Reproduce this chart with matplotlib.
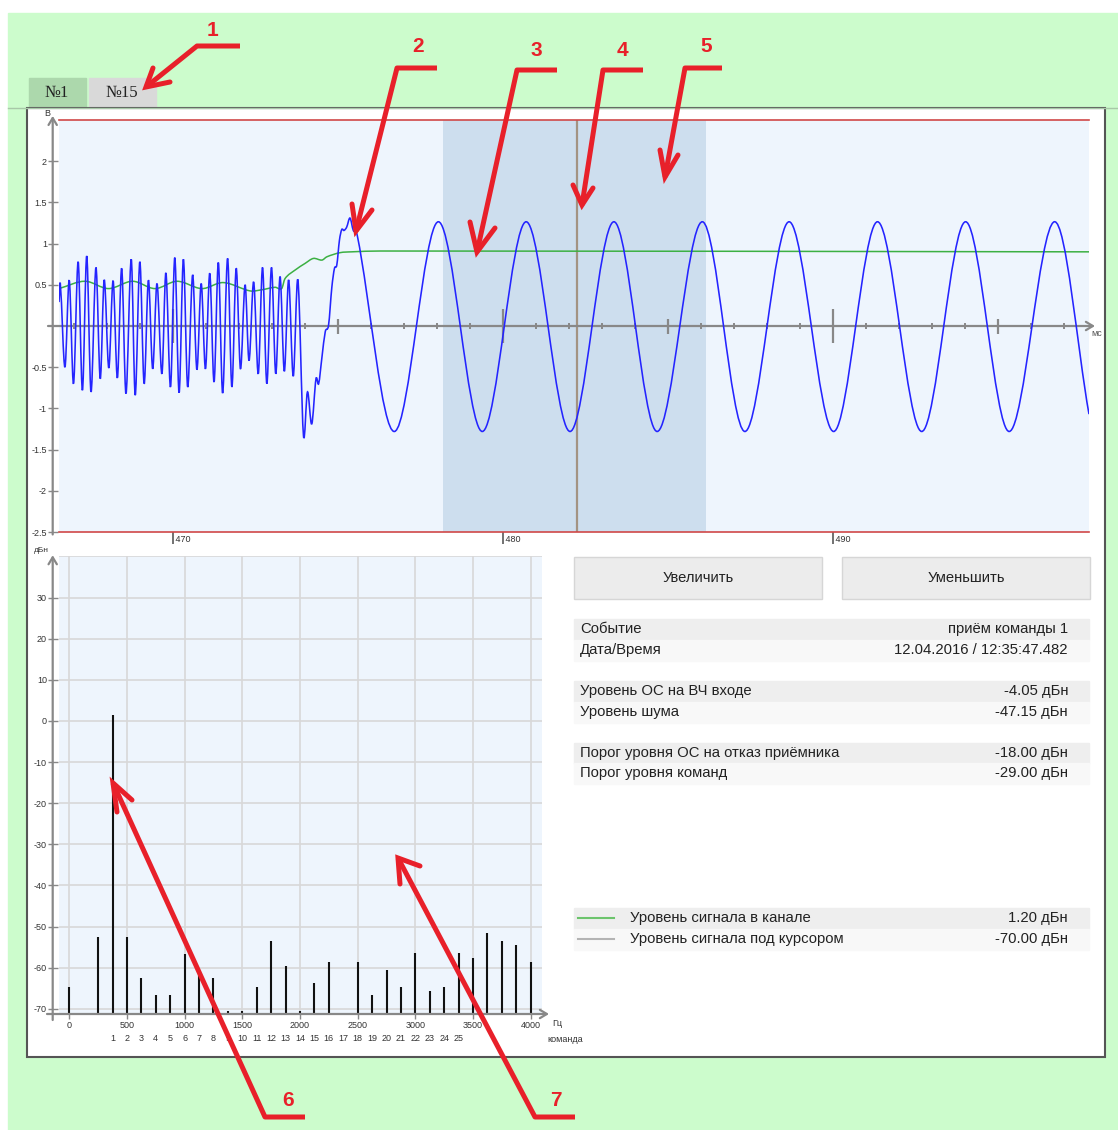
import numpy as np
import matplotlib
matplotlib.use('Agg')
import matplotlib.pyplot as plt
from matplotlib.path import Path
from matplotlib.patches import PathPatch, Rectangle

plt.rcParams['font.family'] = ['Liberation Sans', 'DejaVu Sans']

# ---- oscillogram: turning points (ms, V) ----
sig_t = [466.55, 466.59, 466.73, 466.86, 466.99, 467.13, 467.26, 467.39, 467.52, 467.67,
         467.80, 467.92, 468.06, 468.19, 468.32, 468.45, 468.58, 468.74, 468.86, 469.00,
         469.13, 469.26, 469.39, 469.52, 469.67, 469.79, 469.93, 470.06, 470.19, 470.32,
         470.45, 470.60, 470.73, 470.86, 470.99, 471.12, 471.25, 471.38, 471.51, 471.66,
         471.79, 471.92, 472.05, 472.19, 472.31, 472.45, 472.59, 472.72, 472.85, 472.99,
         473.12, 473.25, 473.38, 473.51, 473.65, 473.79,
         473.96, 474.08, 474.21, 474.34, 474.42, 474.52, 474.62, 474.72, 474.82, 474.90,
         474.97, 475.05, 475.12, 475.19, 475.27, 475.37, 475.47, 475.59,
         476.72, 478.05, 479.38, 480.71, 482.04, 483.37, 484.68, 486.05, 487.34, 488.68,
         490.03, 491.36, 492.70, 494.03, 495.35, 496.72, 497.77]
sig_v = [0.29, 0.515, -0.50, 0.555, -0.70, 0.78, -0.78, 0.85, -0.80, 0.71,
         -0.64, 0.56, -0.51, 0.55, -0.63, 0.70, -0.82, 0.81, -0.84, 0.78,
         -0.70, 0.555, -0.52, 0.515, -0.58, 0.645, -0.74, 0.83, -0.81, 0.81,
         -0.74, 0.62, -0.53, 0.515, -0.52, 0.64, -0.68, 0.77, -0.815, 0.82,
         -0.74, 0.70, -0.52, 0.50, -0.42, 0.535, -0.58, 0.71, -0.70, 0.71,
         -0.58, 0.60, -0.55, 0.56, -0.61, 0.56,
         -1.33, -0.80, -1.19, -0.64, -0.70, -0.38, -0.07, 0.01, 0.47, 0.70,
         0.74, 1.04, 1.17, 1.16, 1.20, 1.31, 1.16, 1.10,
         -1.28, 1.265, -1.28, 1.265, -1.28, 1.265, -1.28, 1.265, -1.28, 1.265,
         -1.28, 1.265, -1.28, 1.265, -1.28, 1.265, -1.07]
lvl_t = [466.55, 467.34, 468.05, 468.78, 469.46, 470.13, 470.88, 471.53, 472.34, 472.70,
         473.10, 473.30, 473.40, 473.71, 474.01, 474.26, 474.52, 474.67, 475.07, 475.42,
         476.28, 497.77]
lvl_v = [0.454, 0.543, 0.454, 0.543, 0.454, 0.543, 0.454, 0.527, 0.426, 0.44,
         0.47, 0.455, 0.575, 0.68, 0.76, 0.82, 0.80, 0.84, 0.89, 0.90,
         0.91, 0.90]
sel_start, sel_end = 478.18, 486.16
cursor_t = 482.26
osc_yticks = [2, 1.5, 1, 0.5, -0.5, -1, -1.5, -2, -2.5]
osc_xlabels = [470, 480, 490]

# ---- spectrum (Hz, dBn) ----
spec_f = [0, 250, 375, 500, 625, 750, 875, 1000, 1125, 1250, 1375, 1500, 1625, 1750, 1875,
          2000, 2125, 2250, 2500, 2625, 2750, 2875, 3000, 3125, 3250, 3375, 3500, 3625,
          3750, 3875, 4000]
spec_db = [-64.6, -52.6, 1.5, -52.6, -62.6, -66.6, -66.6, -56.6, -61.6, -62.6, -70.5, -70.5,
           -64.6, -53.6, -59.6, -70.5, -63.6, -58.5, -58.5, -66.6, -60.6, -64.6, -56.5,
           -65.6, -64.6, -56.5, -57.6, -51.5, -53.5, -54.5, -58.5]
spec_xticks = [0, 500, 1000, 1500, 2000, 2500, 3000, 3500, 4000]
spec_yticks = [30, 20, 10, 0, -10, -20, -30, -40, -50, -60, -70]
cmd_f = [375, 500, 625, 750, 875, 1000, 1125, 1250, 1375, 1500, 1625, 1750, 1875, 2000,
         2125, 2250, 2375, 2500, 2625, 2750, 2875, 3000, 3125, 3250, 3375]
cmd_labels = [str(i) for i in range(1, 26)]

# ---- info panel ----
info_labels = ['Событие', 'Дата/Время', 'Уровень ОС на ВЧ входе', 'Уровень шума',
               'Порог уровня ОС на отказ приёмника', 'Порог уровня команд']
info_values = ['приём команды 1', '12.04.2016 / 12:35:47.482', '-4.05 дБн', '-47.15 дБн',
               '-18.00 дБн', '-29.00 дБн']
legend_labels = ['Уровень сигнала в канале', 'Уровень сигнала под курсором']
legend_values = ['1.20 дБн', '-70.00 дБн']
legend_colors = ['#6cc46c', '#b4b4b4']

W, H = 1118, 1130
fig = plt.figure(figsize=(W / 100, H / 100), dpi=100)


def px_axes(x0, y0, x1, y1):
    return fig.add_axes([x0 / W, 1 - y1 / H, (x1 - x0) / W, (y1 - y0) / H])


def smooth(ts, vs):
    # cubic hermite through the read points, drawn as bezier segments
    t = np.asarray(ts, float)
    v = np.asarray(vs, float)
    m = np.empty_like(v)
    m[1:-1] = (v[2:] - v[:-2]) / (t[2:] - t[:-2])
    m[0] = (v[1] - v[0]) / (t[1] - t[0])
    m[-1] = (v[-1] - v[-2]) / (t[-1] - t[-2])
    verts = [(t[0], v[0])]
    codes = [Path.MOVETO]
    for i in range(len(t) - 1):
        h = (t[i + 1] - t[i]) / 3
        verts += [(t[i] + h, v[i] + m[i] * h), (t[i + 1] - h, v[i + 1] - m[i + 1] * h),
                  (t[i + 1], v[i + 1])]
        codes += [Path.CURVE4] * 3
    return Path(verts, codes)


# ---- page background, tabs, panel ----
bg = px_axes(0, 0, W, H)
bg.set_xlim(0, W)
bg.set_ylim(H, 0)
bg.axis('off')
bg.add_patch(Rectangle((0, 0), W, H, color='white'))
bg.add_patch(Rectangle((8, 13), W - 8, H - 13, color='#ccfccc'))
bg.add_patch(Rectangle((29, 78), 57, 29, color='#acd8ac'))
bg.add_patch(Rectangle((89, 78), 67, 29, color='#d9d9d9'))
bg.text(57, 93, '№1', ha='center', va='center', fontsize=12, family='Liberation Serif', color='#222')
bg.text(122, 93, '№15', ha='center', va='center', fontsize=12, family='Liberation Serif', color='#222')
bg.plot([8, W], [107.5, 107.5], color='#a8c8a8', lw=1)
bg.add_patch(Rectangle((27, 108), 1078, 949, facecolor='white', edgecolor='#555555', lw=1.5))

# buttons
for x0, txt in [(574, 'Увеличить'), (842, 'Уменьшить')]:
    bg.add_patch(Rectangle((x0, 557), 248, 42, facecolor='#ececec', edgecolor='#d6d6d6', lw=1))
    bg.text(x0 + 124, 578, txt, ha='center', va='center', fontsize=10.6, color='#222')

# info rows
row_y = [629, 650, 691, 712, 753, 773]
for k, (lab, val) in enumerate(zip(info_labels, info_values)):
    y = row_y[k]
    bg.add_patch(Rectangle((574, y - 10.5), 515, 21, color='#eeeeee' if k % 2 == 0 else '#f8f8f8'))
    bg.text(580, y, lab, ha='left', va='center', fontsize=10.7, color='#222')
    bg.text(1068, y, val, ha='right', va='center', fontsize=10.7, color='#222')

leg_y = [918, 939]
for k, (lab, val, c) in enumerate(zip(legend_labels, legend_values, legend_colors)):
    y = leg_y[k]
    bg.add_patch(Rectangle((574, y - 10.5), 515, 21, color='#eeeeee' if k == 0 else '#f8f8f8'))
    bg.plot([578, 614], [y, y], color=c, lw=1.5)
    bg.text(630, y, lab, ha='left', va='center', fontsize=10.7, color='#222')
    bg.text(1068, y, val, ha='right', va='center', fontsize=10.7, color='#222')

# ---- oscillogram ----
ax1 = px_axes(59, 120, 1089, 532)
ax1.set_facecolor('#eef5fd')
ax1.set_xlim(466.55, 497.77)
ax1.set_ylim(-2.5, 2.5)
for s in ax1.spines.values():
    s.set_visible(False)
ax1.spines['left'].set_position(('outward', 4.5))
ax1.set_yticks(osc_yticks, [('%g' % v) for v in osc_yticks])
ax1.tick_params(axis='y', direction='inout', length=7.2, width=1, color='#888',
                labelsize=6.5, pad=0.5, labelcolor='#333')
ax1.set_xticks(osc_xlabels, [' %d' % v for v in osc_xlabels])
ax1.tick_params(axis='x', direction='out', length=8.6, width=1.3, color='#666',
                labelsize=6.5, pad=-6.3, labelcolor='#333')
plt.setp(ax1.get_xticklabels(), ha='left')

ax1.axvspan(sel_start, sel_end, color='#cddeee', zorder=1, lw=0)
ax1.axvline(cursor_t, color='#a39382', lw=1.6, zorder=2)
ax1.axhline(2.5, color='#d04848', lw=1.2, clip_on=False)
ax1.axhline(-2.5, color='#d04848', lw=1.2, clip_on=False)

vpx = 412 / 5.0      # px per volt
tpx = 1030 / (497.77 - 466.55)  # px per ms
ms_all = np.arange(467, 498)
ax1.vlines([m for m in ms_all if m % 5], -3 / vpx, 3 / vpx, color='#888', lw=1.4, zorder=4)
ax1.vlines([475, 485, 495], -7.5 / vpx, 7.5 / vpx, color='#888', lw=1.6, zorder=4)
ax1.vlines(osc_xlabels, -17 / vpx, 17 / vpx, color='#888', lw=1.6, zorder=4)
arrow = dict(arrowstyle='->,head_length=0.5,head_width=0.3', color='#888', lw=1.6,
             shrinkA=0, shrinkB=0)
ax1.annotate('', xy=(466.55 + 1036 / tpx, 0), xytext=(466.55 - 11 / tpx, 0),
             arrowprops=arrow, annotation_clip=False, zorder=4)
x_sp = 466.55 - 6.3 / tpx
ax1.annotate('', xy=(x_sp, 2.55), xytext=(x_sp, -2.53), arrowprops=arrow, annotation_clip=False)
ax1.text(x_sp - 5 / tpx, 2.52, 'В', fontsize=6.5, ha='center', va='bottom', color='#333')
ax1.text(466.55 + 1032 / tpx, -7 / vpx, 'мс', fontsize=6.5, ha='left', va='center', color='#555')

ax1.add_patch(PathPatch(smooth(lvl_t, lvl_v), fill=False, edgecolor='#3cb043', lw=1.1, zorder=5))
ax1.add_patch(PathPatch(smooth(sig_t, sig_v), fill=False, edgecolor='#2424ff', lw=1.15, zorder=6))

# ---- spectrum ----
ax2 = px_axes(59, 556, 542, 1014)
ax2.set_facecolor('#eef5fd')
ax2.set_xlim(-89.3, 4098)
ax2.set_ylim(-71.24, 40.1)
for s in ax2.spines.values():
    s.set_visible(False)
ax2.spines['left'].set_position(('outward', 4.5))
ax2.xaxis.remove_overlapping_locs = False
ax2.set_yticks(spec_yticks, [str(v) for v in spec_yticks])
ax2.set_xticks(spec_xticks, [str(v) for v in spec_xticks])
ax2.set_xticks(cmd_f, cmd_labels, minor=True)
ax2.tick_params(axis='y', direction='inout', length=7.2, width=1, color='#888',
                labelsize=6.5, pad=0.5, labelcolor='#333')
ax2.tick_params(axis='x', which='major', direction='out', length=3.6, width=1, color='#888',
                labelsize=6.5, pad=1.5, labelcolor='#333')
ax2.tick_params(axis='x', which='minor', length=0, labelsize=6.5, pad=14.5, labelcolor='#333')
ax2.grid(True, which='major', color='#d8d8d8', lw=1.2)
ax2.axhline(40, color='#d8d8d8', lw=1.2)
ax2.set_axisbelow(True)
ax2.vlines(spec_f, -71.24, spec_db, color='#111111', lw=1.5, zorder=3)

fpx = 483 / (4098 + 89.3)
dpx = 458 / (40.1 + 71.24)
ax2.annotate('', xy=(-89.3 + 490 / fpx, -71.24), xytext=(-89.3 - 12 / fpx, -71.24),
             arrowprops=arrow, annotation_clip=False)
x_sp2 = -89.3 - 6.3 / fpx
ax2.annotate('', xy=(x_sp2, 40.3), xytext=(x_sp2, -71.24 - 6 / dpx), arrowprops=arrow,
             annotation_clip=False)
ax2.text(x_sp2 - 11 / fpx, 40.6, 'дБн', fontsize=6, ha='center', va='bottom', color='#333')
ax2.text(-89.3 + 493 / fpx, -71.24 - 10 / dpx, 'Гц', fontsize=6.5, ha='left', va='center', color='#333')
ax2.text(-89.3 + 488 / fpx, -71.24 - 26 / dpx, 'команда', fontsize=6.5, ha='left', va='center',
         color='#333')

# ---- red annotation arrows ----
ov = px_axes(0, 0, W, H)
ov.set_xlim(0, W)
ov.set_ylim(H, 0)
ov.axis('off')
ov.patch.set_alpha(0)
marks = [
    ('1', (213, 31), (197, 240, 46), (146, 87), (153, 68), (170, 82)),
    ('2', (418, 47), (397, 437, 68), (356, 231), (352, 204), (372, 210)),
    ('3', (536, 50), (517, 557, 70), (477, 252), (470, 222), (495, 228)),
    ('4', (622, 50), (603, 643, 70), (582, 205), (573, 185), (593, 188)),
    ('5', (706, 47), (685, 722, 68), (665, 177), (660, 150), (678, 155)),
    ('6', (288, 1101), (265, 305, 1117), (113, 783), (117, 812), (132, 800)),
    ('7', (556, 1101), (535, 575, 1117), (398, 858), (400, 884), (420, 866)),
]
red = '#e8202a'
for num, lp, bar, tip, a1, a2 in marks:
    xa, xb, yb = bar
    ov.plot([xb, xa, tip[0]], [yb, yb, tip[1]], color=red, lw=3.6,
            solid_capstyle='butt', solid_joinstyle='round')
    ov.plot([a1[0], tip[0], a2[0]], [a1[1], tip[1], a2[1]], color=red, lw=3.6,
            solid_capstyle='round', solid_joinstyle='miter')
    ov.text(lp[0], lp[1], num, color=red, fontsize=15, fontweight='bold', ha='center', va='center')

fig.savefig('out.png', dpi=100)
